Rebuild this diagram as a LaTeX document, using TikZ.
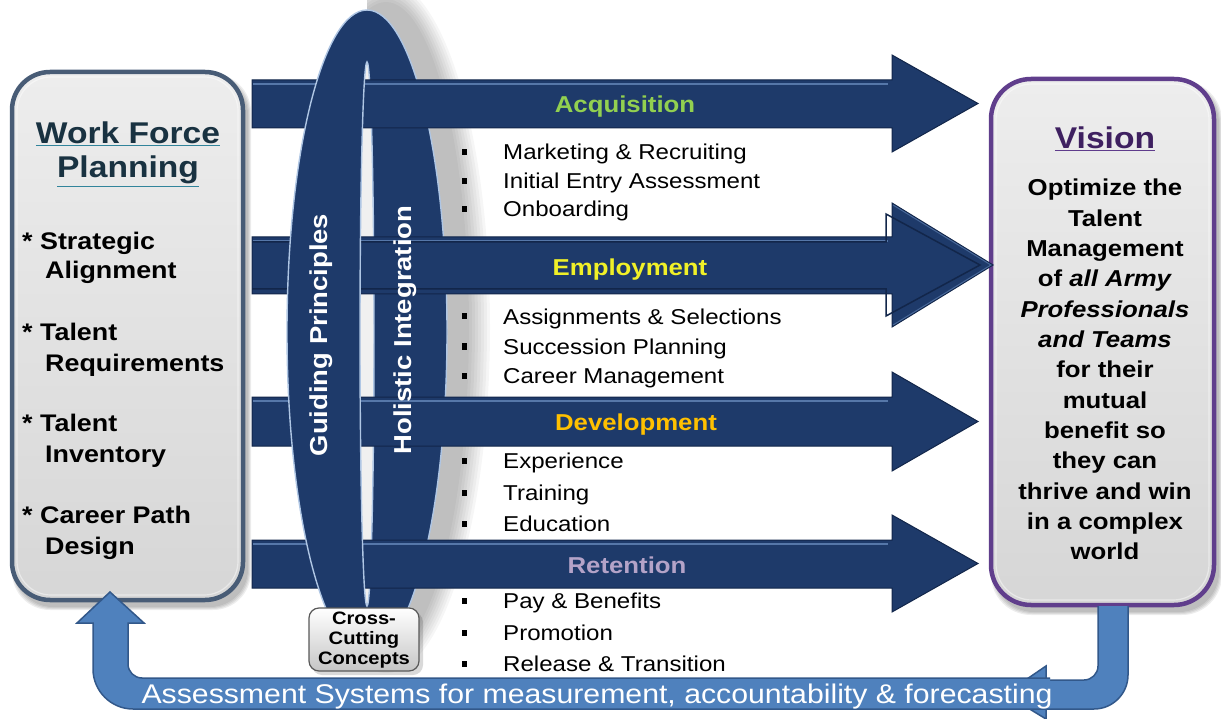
\documentclass[tikz,border=0pt]{standalone}
\usepackage{fontspec}
\setmainfont[FakeStretch=1.12]{Liberation Sans}
\definecolor{navy}{RGB}{30,58,106}
\definecolor{navydark}{RGB}{18,38,74}
\definecolor{navylight}{RGB}{100,135,185}
\definecolor{rim}{RGB}{175,198,228}
\definecolor{wfborder}{RGB}{72,92,118}
\definecolor{visborder}{RGB}{96,62,140}
\definecolor{bandblue}{RGB}{79,129,189}
\definecolor{bandedge}{RGB}{50,88,138}
\definecolor{acq}{RGB}{146,208,80}
\definecolor{emp}{RGB}{240,240,40}
\definecolor{dev}{RGB}{255,192,0}
\definecolor{ret}{RGB}{180,163,200}
\definecolor{wftext}{RGB}{25,50,65}
\definecolor{wful}{RGB}{49,132,155}
\definecolor{vistext}{RGB}{62,32,96}
\definecolor{visul}{RGB}{95,60,140}
\newcommand\ulcol[3]{{\color{#1}\underline{\textcolor{#2}{#3}}}}
\tikzset{
  arrowshape/.style={fill=navy, draw=navydark, line width=1},
  highlight/.style={draw=navylight, line width=1.6, opacity=0.8},
  bigbox/.style={line width=4.5, rounded corners=38, top color=gray!14, bottom color=gray!32},
  wfitem/.style={anchor=base west, inner sep=0, font=\bfseries\fontsize{24}{28}\selectfont},
  visline/.style={anchor=base, inner sep=0, font=\bfseries\fontsize{23}{28}\selectfont},
  listitem/.style={anchor=base west, inner sep=0, font=\fontsize{21.5}{26}\selectfont},
  heading/.style={anchor=base, inner sep=0, font=\bfseries\fontsize{23}{28}\selectfont},
  bandtext/.style={rotate=90, white, inner sep=0, font=\bfseries\fontsize{24.5}{28}\selectfont},
  band/.style={fill=bandblue},
  bandline/.style={draw=bandedge, line width=1.5},
  rimline/.style={draw=rim, line width=1.4},
}
\begin{document}
\begin{tikzpicture}[x=1pt,y=-1pt]
\useasboundingbox (0,0) rectangle (1221,719);

% ---------- box shadows ----------
\foreach \k in {1,...,4}{
  \fill[black,opacity=0.07,rounded corners=38] ({16-\k},{78-\k}) rectangle ({247+\k},{606+\k});
  \fill[black,opacity=0.07,rounded corners=40] ({995-\k},{85-\k}) rectangle ({1218+\k},{611+\k});
}
% ---------- left box ----------
\path[bigbox, draw=wfborder] (12,72) rectangle (243,600);
\draw[white,opacity=0.45,line width=1.2,rounded corners=34] (17,77) rectangle (238,595);
\node[anchor=base, inner sep=0, font=\bfseries\fontsize{30}{36}\selectfont] (wf1) at (128,144) {\ulcol{wful}{wftext}{Work Force}};
\node[anchor=base, inner sep=0, font=\bfseries\fontsize{30}{36}\selectfont] (wf2) at (128,178) {\ulcol{wful}{wftext}{Planning}};
\node[wfitem] (s1a) at (22,250) {* Strategic};
\node[wfitem] (s1b) at (45,279) {Alignment};
\node[wfitem] (s2a) at (22,341) {* Talent};
\node[wfitem] (s2b) at (45,371) {Requirements};
\node[wfitem] (s3a) at (22,431) {* Talent};
\node[wfitem] (s3b) at (45,462) {Inventory};
\node[wfitem] (s4a) at (22,523) {* Career Path};
\node[wfitem] (s4b) at (45,554) {Design};

% ---------- vision box ----------
\path[bigbox, draw=visborder, rounded corners=40] (991,79) rectangle (1214,605);
\draw[white,opacity=0.45,line width=1.2,rounded corners=36] (996,84) rectangle (1209,600);
\node[anchor=base, inner sep=0, font=\bfseries\fontsize{30}{36}\selectfont] (vis) at (1105,149) {\ulcol{visul}{vistext}{Vision}};
\foreach \t [count=\i from 0] in {{Optimize the},{Talent},{Management},{of \textit{all Army}},{\textit{Professionals}},{\textit{and Teams}},{for their},{mutual},{benefit so},{they can},{thrive and win},{in a complex},{world}}{
  \node[visline] (v\i) at (1105,{196+30.33*\i}) {\t};
}

% ---------- ring shadow ----------
\begin{scope}
  \clip (367,0) rectangle (540,719);
  \foreach \k in {1,...,8}
    \fill[black,opacity=0.035] (386,327) ellipse ({80+3*\k} and {322+3*\k});
\end{scope}

% ---------- gap inside ring ----------
\fill[gray!12] (367,334) ellipse (7 and 272);

% ---------- holistic half of ring ----------
\begin{scope}
  \clip (367,64) rectangle (470,719);
  \fill[navy, even odd rule] (367,332) ellipse (80 and 322) (367,334) ellipse (7 and 272);
  \draw[rimline] (367,332) ellipse (80 and 322);
  \draw[rimline] (367,334) ellipse (7 and 272);
\end{scope}

% ---------- arrows ----------
\foreach \t/\b/\ht/\hb/\tx in {80/128/55/152/978, 237/294/203/327/993, 397/446/372/471/978, 540/588/515/612/978}{
  \path[arrowshape] (252,\t) -- (892,\t) -- (892,\ht) -- (\tx,{(\ht+\hb)/2}) -- (892,\hb) -- (892,\b) -- (252,\b) -- cycle;
  \draw[highlight] (253,{\t+4}) -- (888,{\t+4});
}
\draw[navydark,line width=1.5] (252,242) -- (886,242) -- (886,214) -- (980,265) -- (886,316) -- (886,289) -- (252,289);
\draw[navylight,line width=1,opacity=0.6] (893,205) -- (991,265) -- (893,325);

% ---------- guiding half of ring ----------
\begin{scope}
  \clip (280,0) rectangle (470,64) (280,64) rectangle (367,719);
  \fill[navy, even odd rule] (367,332) ellipse (80 and 322) (367,334) ellipse (7 and 272);
  \draw[rimline] (367,332) ellipse (80 and 322);
  \draw[rimline] (367,334) ellipse (7 and 272);
\end{scope}

\node[bandtext] (gp) at (321,335) {Guiding Principles};
\node[bandtext] (hi) at (405,330) {Holistic Integration};

% ---------- headings ----------
\node[heading, acq] (hacq) at (625,113) {Acquisition};
\node[heading, emp] (hemp) at (630,276) {Employment};
\node[heading, dev] (hdev) at (636,430) {Development};
\node[heading, ret] (hret) at (627,573) {Retention};

% ---------- list items ----------
\foreach \yb/\txt [count=\i] in {160/{Marketing \& Recruiting},189/{Initial Entry Assessment},217/{Onboarding},324/{Assignments \& Selections},354/{Succession Planning},383/{Career Management},468/{Experience},500/{Training},531/{Education},608/{Pay \& Benefits},640/{Promotion},671/{Release \& Transition}}{
  \fill ({462},{\yb-10.5}) rectangle ({467},{\yb-4.5});
  \node[listitem] (item\i) at (503,\yb) {\txt};
}

% ---------- cross-cutting box ----------
\fill[black,opacity=0.15,rounded corners=10] (312,612) rectangle (423,675);
\path[draw=gray!70!black, line width=1.2, rounded corners=10, top color=white, bottom color=gray!45] (309,608) rectangle (419,671);
\node[align=center, inner sep=0, font=\bfseries\fontsize{18}{20}\selectfont] (ccc) at (364,640) {Cross-\\Cutting\\Concepts};

% ---------- feedback arrow ----------
\path[band] (1098,606) -- (1098,666) .. controls (1098,673.7) and (1091.7,680) .. (1084,680) -- (1046,680) -- (1046,666) -- (1005,694) -- (1046,719) -- (1046,709) -- (1094,709) .. controls (1112.7,709) and (1128,693.7) .. (1128,675) -- (1128,606) -- cycle;
\draw[bandline] (1098,606) -- (1098,666) .. controls (1098,673.7) and (1091.7,680) .. (1084,680) -- (1046,680) -- (1046,666) -- (1005,694) -- (1046,719) -- (1046,709) -- (1094,709) .. controls (1112.7,709) and (1128,693.7) .. (1128,675) -- (1128,606);
\path[band] (1050,678) -- (142,678) .. controls (134.3,678) and (128,671.7) .. (128,664) -- (128,623) -- (144,623) -- (110,592) -- (77,623) -- (93,623) -- (93,669) .. controls (93,691) and (111,709) .. (133,709) -- (1050,709) -- cycle;
\draw[bandline] (1050,678) -- (142,678) .. controls (134.3,678) and (128,671.7) .. (128,664) -- (128,623) -- (144,623) -- (110,592) -- (77,623) -- (93,623) -- (93,669) .. controls (93,691) and (111,709) .. (133,709) -- (1050,709);
\node[anchor=base, inner sep=0, white, font=\fontsize{27}{30}\selectfont] (assess) at (597,703) {Assessment Systems for measurement, accountability \& forecasting};
\end{tikzpicture}
\end{document}
